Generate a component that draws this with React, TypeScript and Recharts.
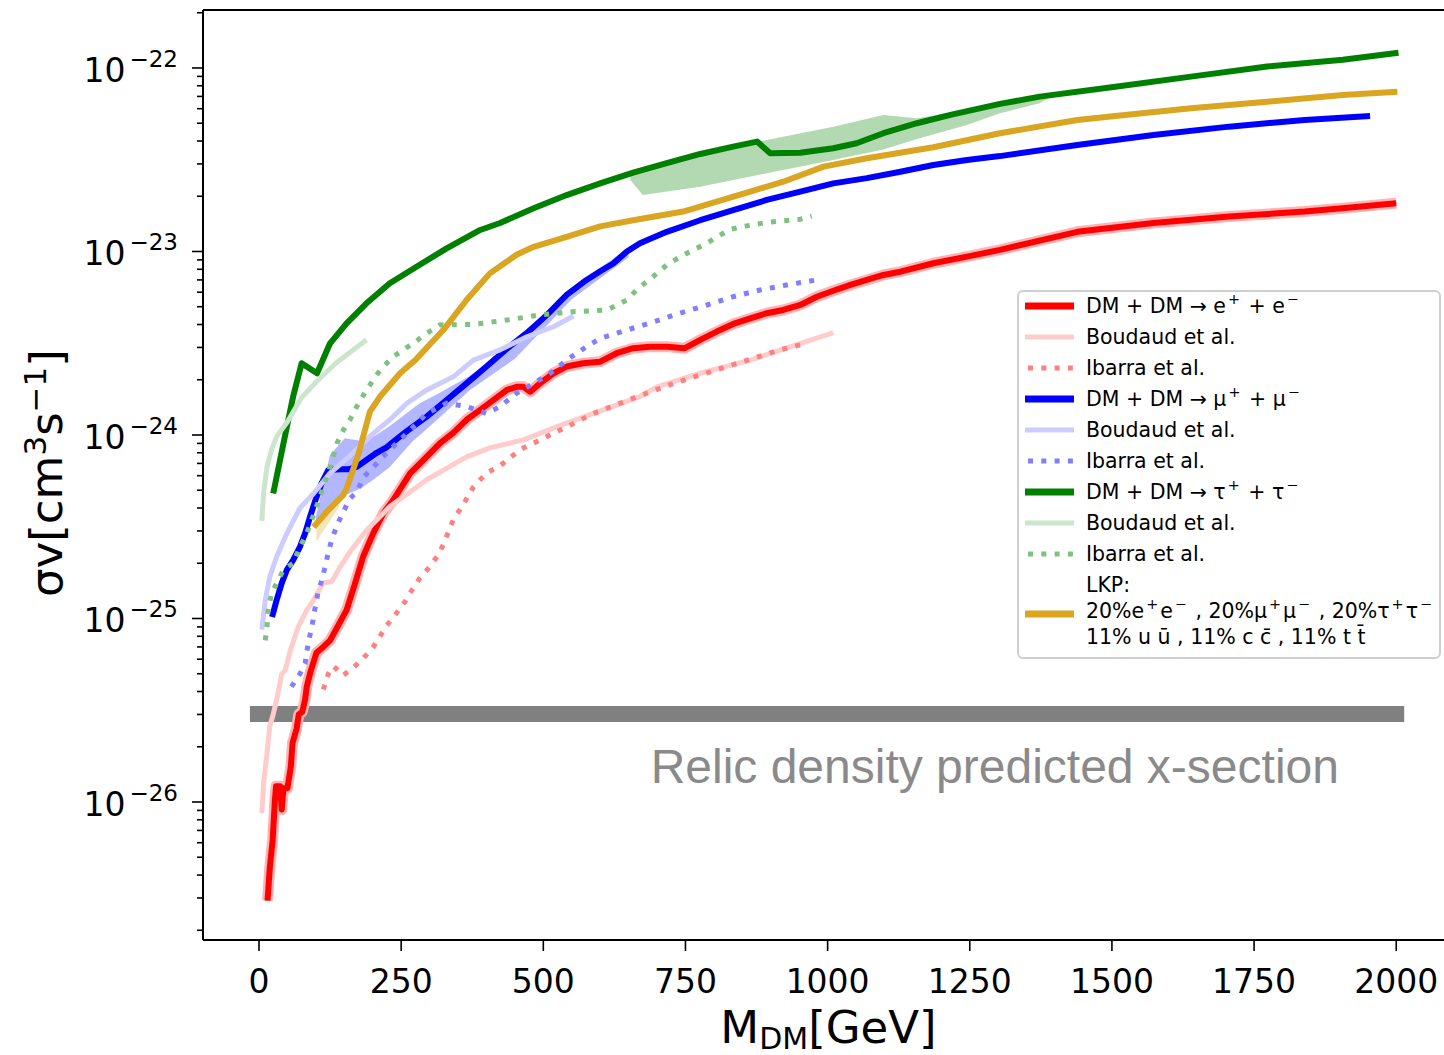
import {
  ComposedChart,
  Line,
  Area,
  XAxis,
  YAxis,
  ReferenceArea,
  ReferenceLine,
  ReferenceDot,
} from "recharts";

const FONT = "'DejaVu Sans', sans-serif";

type P = [number, number];
type B = [number, number, number];

// DM + DM -> e+ e-
const eeMain: P[] = [
  [15, 2.9e-27], [19, 4.4e-27], [24, 6.2e-27], [28, 1.03e-26], [30, 1.22e-26],
  [37, 1.22e-26], [40, 9.1e-27], [43, 1.19e-26], [50, 1.19e-26], [56, 1.56e-26],
  [59, 2.1e-26], [66, 2.5e-26], [70, 3.0e-26], [76, 3.1e-26], [81, 3.6e-26],
  [84, 4.25e-26], [90, 5.05e-26], [101, 6.5e-26], [113, 7.0e-26], [125, 7.6e-26],
  [142, 9.5e-26], [154, 1.11e-25], [169, 1.56e-25], [183, 2.17e-25], [201, 2.92e-25],
  [219, 3.76e-25], [236, 4.42e-25], [266, 6.2e-25], [289, 7.3e-25], [318, 9.0e-25],
  [342, 1.03e-24], [365, 1.21e-24], [389, 1.37e-24], [412, 1.55e-24], [436, 1.76e-24],
  [453, 1.83e-24], [465, 1.83e-24], [477, 1.72e-24], [494, 1.91e-24], [518, 2.17e-24],
  [541, 2.36e-24], [570, 2.46e-24], [600, 2.51e-24], [629, 2.79e-24], [658, 2.97e-24],
  [688, 3.03e-24], [717, 3.03e-24], [749, 2.97e-24], [776, 3.3e-24], [805, 3.66e-24],
  [834, 4.03e-24], [864, 4.32e-24], [893, 4.61e-24], [922, 4.8e-24], [952, 5.11e-24],
  [981, 5.67e-24], [1010, 6.11e-24], [1040, 6.57e-24], [1069, 7.0e-24], [1098, 7.45e-24],
  [1128, 7.76e-24], [1186, 8.63e-24], [1245, 9.37e-24], [1303, 1.02e-23], [1439, 1.28e-23],
  [1573, 1.43e-23], [1706, 1.55e-23], [1839, 1.65e-23], [1905, 1.72e-23], [2000, 1.83e-23],
];
const eeBoudaud: P[] = [
  [5, 8.7e-27], [8, 1.26e-26], [14, 1.84e-26], [19, 2.6e-26], [25, 3.0e-26],
  [31, 3.6e-26], [40, 5.0e-26], [46, 5.2e-26], [55, 6.7e-26], [69, 9.0e-26],
  [84, 1.11e-25], [96, 1.26e-25], [113, 1.56e-25], [128, 1.59e-25], [143, 1.92e-25],
  [160, 2.31e-25], [189, 3.03e-25], [230, 4.07e-25], [295, 5.7e-25], [365, 7.6e-25],
  [406, 8.5e-25], [465, 9.4e-25], [524, 1.11e-24], [582, 1.29e-24], [670, 1.62e-24],
  [700, 1.83e-24], [776, 2.17e-24], [864, 2.56e-24], [1010, 3.61e-24],
];
const eeIbarra: P[] = [
  [113, 4.1e-26], [122, 5.0e-26], [131, 5.5e-26], [148, 4.9e-26], [166, 5.4e-26],
  [184, 6.1e-26], [201, 7.0e-26], [225, 9.2e-26], [242, 1.07e-25], [257, 1.24e-25],
  [269, 1.43e-25], [283, 1.66e-25], [298, 1.88e-25], [313, 2.17e-25], [324, 2.52e-25],
  [333, 2.97e-25], [342, 3.47e-25], [357, 4.07e-25], [377, 5.2e-25], [400, 6.2e-25],
  [424, 6.8e-25], [459, 8.3e-25], [500, 9.6e-25], [547, 1.13e-24], [588, 1.31e-24],
  [635, 1.49e-24], [682, 1.69e-24], [729, 1.91e-24], [776, 2.12e-24], [823, 2.36e-24],
  [870, 2.62e-24], [916, 2.91e-24], [963, 3.16e-24],
];

// DM + DM -> mu+ mu-
const mumuMain: P[] = [
  [23, 1.02e-25], [31, 1.26e-25], [40, 1.56e-25], [49, 1.84e-25], [60, 2.08e-25],
  [72, 2.46e-25], [81, 2.91e-25], [90, 3.6e-25], [99, 4.4e-25], [110, 5.45e-25],
  [122, 6.45e-25], [143, 6.5e-25], [157, 6.5e-25], [172, 6.7e-25], [189, 7.3e-25],
  [207, 8.0e-25], [225, 8.6e-25], [242, 9.5e-25], [260, 1.05e-24], [295, 1.26e-24],
  [330, 1.55e-24], [365, 1.91e-24], [400, 2.36e-24], [436, 2.95e-24], [471, 3.6e-24],
  [506, 4.5e-24], [541, 5.8e-24], [576, 7.0e-24], [600, 7.8e-24], [623, 8.6e-24],
  [647, 1.0e-23], [670, 1.11e-23], [717, 1.28e-23], [776, 1.48e-23], [834, 1.68e-23],
  [893, 1.91e-23], [952, 2.12e-23], [1010, 2.35e-23], [1069, 2.51e-23], [1128, 2.72e-23],
  [1186, 2.96e-23], [1245, 3.15e-23], [1303, 3.31e-23], [1439, 3.8e-23], [1573, 4.31e-23],
  [1706, 4.79e-23], [1839, 5.21e-23], [1954, 5.48e-23],
];
const mumuBand: B[] = [
  [100, 3.2e-25, 3.6e-25], [125, 4.2e-25, 7.8e-25], [151, 4.7e-25, 9.6e-25],
  [178, 5.1e-25, 9.3e-25], [204, 5.8e-25, 9.9e-25], [230, 6.7e-25, 1.12e-24],
  [271, 9.3e-25, 1.4e-24], [283, 1.0e-24, 1.49e-24], [318, 1.25e-24, 1.7e-24],
  [371, 1.76e-24, 2.1e-24], [450, 2.6e-24, 3.1e-24], [550, 5.5e-24, 6.3e-24],
  [650, 9.3e-24, 1.05e-23],
];
const mumuBoudaud: P[] = [
  [5, 8.7e-26], [11, 1.26e-25], [19, 1.69e-25], [31, 2.17e-25], [49, 2.91e-25],
  [72, 4.0e-25], [96, 4.8e-25], [125, 6.2e-25], [160, 7.7e-25], [201, 1.02e-24],
  [230, 1.21e-24], [248, 1.37e-24], [260, 1.49e-24], [295, 1.76e-24], [342, 2.08e-24],
  [377, 2.56e-24], [424, 2.91e-24], [471, 3.43e-24], [518, 3.89e-24], [553, 4.45e-24],
];
const mumuIbarra: P[] = [
  [57, 4.25e-26], [72, 5.0e-26], [81, 5.7e-26], [87, 7.5e-26], [93, 9.0e-26],
  [99, 1.16e-25], [104, 1.4e-25], [110, 1.6e-25], [116, 1.9e-25], [122, 2.3e-25],
  [128, 2.7e-25], [137, 3.2e-25], [146, 3.7e-25], [160, 4.5e-25], [172, 4.9e-25],
  [184, 5.9e-25], [207, 7.0e-25], [230, 8.3e-25], [260, 1.02e-24], [295, 1.31e-24],
  [330, 1.49e-24], [365, 1.43e-24], [400, 1.31e-24], [424, 1.43e-24], [453, 1.69e-24],
  [483, 1.91e-24], [512, 2.17e-24], [541, 2.56e-24], [576, 3.03e-24], [600, 3.36e-24],
  [647, 3.73e-24], [694, 4.14e-24], [740, 4.61e-24], [788, 5.11e-24], [834, 5.67e-24],
  [881, 6.17e-24], [928, 6.57e-24], [981, 7.0e-24],
];

// DM + DM -> tau+ tau-
const tautauMain: P[] = [
  [25, 4.8e-25], [43, 9.0e-25], [60, 1.62e-24], [75, 2.46e-24], [102, 2.17e-24],
  [125, 3.16e-24], [154, 4.06e-24], [189, 5.22e-24], [230, 6.71e-24], [277, 8.26e-24],
  [330, 1.04e-23], [389, 1.31e-23], [424, 1.43e-23], [483, 1.72e-23], [541, 2.03e-23],
  [600, 2.35e-23], [658, 2.69e-23], [717, 3.03e-23], [776, 3.4e-23], [834, 3.73e-23],
  [876, 3.97e-23], [899, 3.43e-23], [952, 3.45e-23], [1010, 3.65e-23], [1051, 3.89e-23],
  [1098, 4.41e-23], [1157, 5.0e-23], [1216, 5.55e-23], [1303, 6.37e-23], [1373, 6.98e-23],
  [1506, 7.91e-23], [1639, 8.97e-23], [1773, 1.02e-22], [1906, 1.11e-22], [2004, 1.21e-22],
];
const tautauBand: B[] = [
  [653, 2.45e-23, 2.6e-23], [675, 2.03e-23, 2.78e-23], [776, 2.25e-23, 3.4e-23],
  [893, 2.67e-23, 4.05e-23], [1010, 3.15e-23, 4.79e-23], [1098, 3.6e-23, 5.55e-23],
  [1157, 4.1e-23, 5.32e-23], [1245, 4.89e-23, 5.9e-23], [1303, 5.67e-23, 6.42e-23],
  [1373, 6.42e-23, 6.98e-23], [1400, 7.2e-23, 7.25e-23],
];
const tautauBoudaud: P[] = [
  [5, 3.4e-25], [8, 4.8e-25], [14, 6.7e-25], [22, 8.3e-25], [31, 9.8e-25],
  [50, 1.18e-24], [75, 1.6e-24], [101, 1.95e-24], [135, 2.46e-24], [189, 3.3e-24],
];
const tautauIbarra: P[] = [
  [11, 7.6e-26], [14, 9.0e-26], [16, 1.11e-25], [22, 1.37e-25], [31, 1.56e-25],
  [43, 1.84e-25], [60, 2.0e-25], [72, 2.46e-25], [84, 2.91e-25], [99, 3.9e-25],
  [113, 5.2e-25], [125, 6.7e-25], [137, 9.0e-25], [148, 1.06e-24], [160, 1.21e-24],
  [172, 1.43e-24], [189, 1.76e-24], [213, 2.26e-24], [236, 2.67e-24], [271, 3.16e-24],
  [295, 3.58e-24], [318, 3.98e-24], [377, 4.0e-24], [436, 4.23e-24], [494, 4.51e-24],
  [553, 4.7e-24], [612, 4.8e-24], [647, 5.44e-24], [664, 6.17e-24], [682, 6.85e-24],
  [700, 7.6e-24], [717, 8.44e-24], [741, 9.37e-24], [764, 1.02e-23], [788, 1.11e-23],
  [805, 1.2e-23], [829, 1.32e-23], [852, 1.37e-23], [893, 1.44e-23], [952, 1.5e-23],
  [972, 1.56e-23],
];

// LKP mixture
const lkpMain: P[] = [
  [96, 3.15e-25], [122, 3.9e-25], [148, 4.7e-25], [154, 5.1e-25], [175, 7.9e-25],
  [195, 1.34e-24], [213, 1.62e-24], [248, 2.17e-24], [275, 2.56e-24], [324, 3.73e-24],
  [365, 5.44e-24], [406, 7.6e-24], [424, 8.3e-24], [453, 9.6e-24], [483, 1.06e-23],
  [541, 1.2e-23], [600, 1.37e-23], [658, 1.48e-23], [746, 1.65e-23], [805, 1.87e-23],
  [864, 2.12e-23], [922, 2.4e-23], [993, 2.9e-23], [1069, 3.22e-23], [1186, 3.7e-23],
  [1303, 4.41e-23], [1439, 5.21e-23], [1506, 5.48e-23], [1639, 6.03e-23], [1773, 6.55e-23],
  [1906, 7.13e-23], [2002, 7.43e-23],
];
const lkpBand: B[] = [
  [101, 2.62e-25, 3.15e-25], [137, 3.9e-25, 4.2e-25], [150, 4.7e-25, 4.8e-25],
];

// relic density cross-section band
const relicLow = 2.73e-26;
const relicHigh = 3.34e-26;
const relicFrom = -16;
const relicTo = 2014;

const xTicks = [0, 250, 500, 750, 1000, 1250, 1500, 1750, 2000];
const yExponents = [-27, -26, -25, -24, -23, -22];
const yMinorSteps = [2, 3, 4, 5, 6, 7, 8, 9];

const X_MIN = -98.5;
const X_MAX = 2084;
const Y_MIN = 1.77e-27;
const Y_MAX = 2.07e-22;

const yTicks = yExponents
  .flatMap((e) => [1, ...yMinorSteps].map((k) => k * Math.pow(10, e)))
  .filter((v) => v >= Y_MIN && v <= Y_MAX);

const pts = (a: P[]) => a.map(([m, sv]) => ({ m, sv }));
const band = (a: B[]) => a.map(([m, lo, hi]) => ({ m, lo, hi }));

const YTick = ({ x, y, payload }: any) => {
  const lg = Math.log10(payload.value);
  const exp = Math.round(lg);
  const major = Math.abs(lg - exp) < 1e-6;
  return (
    <g>
      <line x1={x - (major ? 11 : 6)} x2={x} y1={y} y2={y} stroke="#000" strokeWidth={1.6} />
      {major && (
        <text x={x - 25} y={y + 14} textAnchor="end" fontFamily={FONT} fill="#000">
          <tspan fontSize={33}>10</tspan>
          <tspan fontSize={23} dx={4} dy={-15}>{`−${-exp}`}</tspan>
        </text>
      )}
    </g>
  );
};

const XTick = ({ x, y, payload }: any) => (
  <text x={x} y={y + 42} textAnchor="middle" fontSize={33} fontFamily={FONT} fill="#000">
    {payload.value}
  </text>
);

const solid = (data: P[], color: string, width: number, key: string) => (
  <Line
    key={key}
    data={pts(data)}
    dataKey="sv"
    type="linear"
    stroke={color}
    strokeWidth={width}
    strokeLinejoin="round"
    dot={false}
    activeDot={false}
    isAnimationActive={false}
  />
);

const dotted = (data: P[], color: string, key: string) => (
  <Line
    key={key}
    data={pts(data)}
    dataKey="sv"
    type="linear"
    stroke={color}
    strokeWidth={5}
    strokeDasharray="5 8.3"
    strokeLinecap="butt"
    dot={false}
    activeDot={false}
    isAnimationActive={false}
  />
);

const shade = (data: B[], color: string, opacity: number, key: string) => (
  <Area
    key={key}
    data={band(data)}
    dataKey={(d: any) => [d.lo, d.hi]}
    type="linear"
    stroke="none"
    fill={color}
    fillOpacity={opacity}
    activeDot={false}
    isAnimationActive={false}
  />
);

const Sup = ({ children }: { children: string }) => (
  <span
    style={{
      fontSize: "0.7em",
      position: "relative",
      top: "-0.6em",
      lineHeight: 0,
      margin: "0 2px",
    }}
  >
    {children}
  </span>
);

const legendRows = [
  { label: <>DM + DM → e<Sup>+</Sup> + e<Sup>−</Sup></>, color: "#ff0000", width: 7 },
  { label: <>Boudaud et al.</>, color: "#ffcccc", width: 5 },
  { label: <>Ibarra et al.</>, color: "#ff8080", width: 5, dash: true },
  { label: <>DM + DM → μ<Sup>+</Sup> + μ<Sup>−</Sup></>, color: "#0000ff", width: 7 },
  { label: <>Boudaud et al.</>, color: "#ccccff", width: 5 },
  { label: <>Ibarra et al.</>, color: "#8080ff", width: 5, dash: true },
  { label: <>DM + DM → τ<Sup>+</Sup> + τ<Sup>−</Sup></>, color: "#008000", width: 7 },
  { label: <>Boudaud et al.</>, color: "#cce5cc", width: 5 },
  { label: <>Ibarra et al.</>, color: "#80c080", width: 5, dash: true },
];

const Handle = ({ color, width, dash }: { color: string; width: number; dash?: boolean }) => (
  <svg width={50} height={12} style={{ position: "absolute", left: 6, top: 9 }}>
    <line
      x1={0}
      x2={49}
      y1={6}
      y2={6}
      stroke={color}
      strokeWidth={width}
      strokeDasharray={dash ? "5 8.3" : undefined}
      transform={dash ? "translate(3,0)" : undefined}
    />
  </svg>
);

const ChartLegend = () => (
  <div
    style={{
      position: "absolute",
      left: 1017,
      top: 290,
      width: 420,
      height: 365,
      border: "2px solid #cfcfcf",
      borderRadius: 6,
      background: "rgba(255,255,255,0.85)",
      fontFamily: FONT,
      fontSize: 20.5,
      color: "#000",
    }}
  >
    {legendRows.map((r, i) => (
      <div key={i} style={{ position: "absolute", left: 0, top: 14 + i * 31 - 15, height: 30, width: 420 }}>
        <Handle color={r.color} width={r.width} dash={r.dash} />
        <div style={{ position: "absolute", left: 67, top: 0, lineHeight: "30px", whiteSpace: "nowrap" }}>
          {r.label}
        </div>
      </div>
    ))}
    <div style={{ position: "absolute", left: 0, top: 280, width: 420, height: 80 }}>
      <svg width={50} height={12} style={{ position: "absolute", left: 6, top: 36 }}>
        <line x1={0} x2={49} y1={6} y2={6} stroke="#daa520" strokeWidth={7} />
      </svg>
      <div style={{ position: "absolute", left: 67, top: 0, lineHeight: "26px", whiteSpace: "nowrap" }}>
        <div>LKP:</div>
        <div>
          20%e<Sup>+</Sup>e<Sup>−</Sup> , 20%μ<Sup>+</Sup>μ<Sup>−</Sup> , 20%τ<Sup>+</Sup>τ<Sup>−</Sup>
        </div>
        <div>11% u u&#772; , 11% c c&#772; , 11% t t&#772;</div>
      </div>
    </div>
  </div>
);

const App = () => {
  return (
    <div style={{ position: "absolute", left: 0, top: 0, width: 1444, height: 1055, background: "#fff" }}>
      <ComposedChart width={1444} height={1055} margin={{ top: 10, right: 0, bottom: 0, left: 0 }}>
        <XAxis
          dataKey="m"
          type="number"
          domain={[X_MIN, X_MAX]}
          allowDataOverflow
          ticks={xTicks}
          interval={0}
          height={115}
          tickSize={11}
          tickMargin={0}
          tickLine={{ stroke: "#000", strokeWidth: 1.6 }}
          axisLine={{ stroke: "#000", strokeWidth: 2 }}
          tick={<XTick />}
          label={({ viewBox }: any) => (
            <text
              x={viewBox.x + viewBox.width / 2 + 5}
              y={1043}
              textAnchor="middle"
              fontFamily={FONT}
              fontSize={45}
              fill="#000"
            >
              M<tspan fontSize={30} dy={6}>DM</tspan>
              <tspan dy={-6}>[GeV]</tspan>
            </text>
          )}
        />
        <YAxis
          dataKey="sv"
          type="number"
          scale="log"
          domain={[Y_MIN, Y_MAX]}
          allowDataOverflow
          ticks={yTicks}
          interval={0}
          width={203}
          tickSize={0}
          tickMargin={0}
          tickLine={false}
          axisLine={{ stroke: "#000", strokeWidth: 2 }}
          tick={<YTick />}
          label={({ viewBox }: any) => (
            <text
              transform={`translate(62, ${viewBox.y + viewBox.height / 2 - 2}) rotate(-90)`}
              textAnchor="middle"
              fontFamily={FONT}
              fontSize={45}
              fill="#000"
            >
              σv[cm<tspan fontSize={31} dy={-16}>3</tspan>
              <tspan dy={16}>s</tspan>
              <tspan fontSize={31} dy={-16}>−1</tspan>
              <tspan dy={16}>]</tspan>
            </text>
          )}
        />
        <ReferenceLine y={Y_MAX} stroke="#000" strokeWidth={2} ifOverflow="visible" />
        <ReferenceArea
          x1={relicFrom}
          x2={relicTo}
          y1={relicLow}
          y2={relicHigh}
          fill="#808080"
          fillOpacity={1}
          stroke="none"
          ifOverflow="visible"
        />
        <ReferenceDot
          x={1294}
          y={1.27e-26}
          r={0}
          ifOverflow="visible"
          shape={(p: any) => (
            <text
              x={p.cx}
              y={p.cy}
              textAnchor="middle"
              fontFamily="'Liberation Sans', Arial, sans-serif"
              fontSize={48}
              fill="#8a8a8a"
            >
              Relic density predicted x-section
            </text>
          )}
        />

        {solid(eeMain, "#ffb3b3", 11, "ee-halo")}
        {solid(eeMain, "#ff0000", 6, "ee-main")}
        {solid(eeBoudaud, "#ffcccc", 5, "ee-boudaud")}
        {dotted(eeIbarra, "#ff8080", "ee-ibarra")}

        {shade(mumuBand, "#6670ff", 0.5, "mumu-band")}
        {solid(mumuMain, "#0000ff", 6, "mumu-main")}
        {solid(mumuBoudaud, "#ccccff", 5, "mumu-boudaud")}
        {dotted(mumuIbarra, "#8080ff", "mumu-ibarra")}

        {shade(tautauBand, "#008000", 0.3, "tautau-band")}
        {solid(tautauMain, "#008000", 6, "tautau-main")}
        {solid(tautauBoudaud, "#cce5cc", 5, "tautau-boudaud")}
        {dotted(tautauIbarra, "#80c080", "tautau-ibarra")}

        {shade(lkpBand, "#daa520", 0.3, "lkp-band")}
        {solid(lkpMain, "#daa520", 6, "lkp-main")}
      </ComposedChart>
      <ChartLegend />
    </div>
  );
};

export default App;
